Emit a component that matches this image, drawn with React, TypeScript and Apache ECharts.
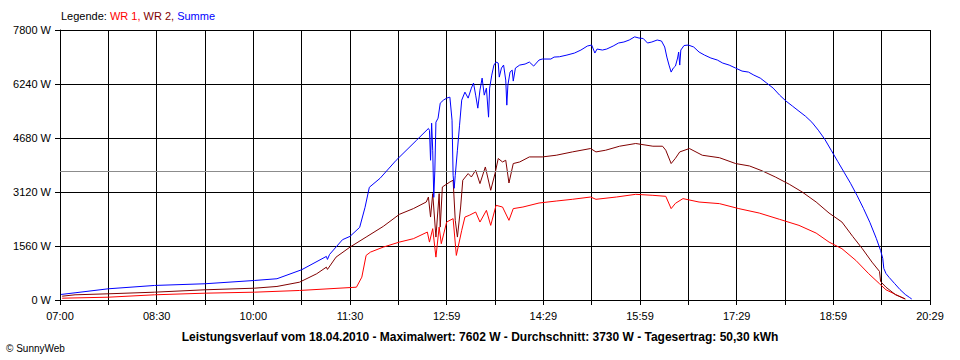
import React, { useEffect, useRef } from "react";
import * as echarts from "echarts";

const tickLabels = ["07:00", "08:30", "10:00", "11:30", "12:59", "14:29", "15:59", "17:29", "18:59", "20:29"];
const yTicks = [0, 1560, 3120, 4680, 6240, 7800];
const average = 3730;

const sumTimes = ["07:01","07:14","07:45","08:28","09:15","10:01","10:22","10:45","11:08","11:09","11:11","11:23","11:30","11:39","11:44","11:48","11:58","12:13","12:32","12:43","12:44","12:45","12:46","12:47","12:48","12:49","12:50","12:52","12:54","12:57","13:00","13:03","13:05","13:06","13:07","13:08","13:10","13:12","13:14","13:17","13:20","13:23","13:25","13:27","13:29","13:31","13:33","13:35","13:37","13:39","13:40","13:42","13:44","13:46","13:48","13:49","13:51","13:53","13:55","13:56","13:57","13:59","14:01","14:02","14:04","14:08","14:13","14:17","14:21","14:26","14:29","14:37","14:40","14:45","14:52","14:59","15:05","15:11","15:15","15:18","15:20","15:25","15:29","15:35","15:40","15:45","15:50","15:55","15:59","16:03","16:07","16:11","16:16","16:20","16:23","16:25","16:27","16:29","16:31","16:33","16:35","16:36","16:37","16:38","16:41","16:45","16:50","16:55","17:00","17:06","17:12","17:17","17:23","17:29","17:35","17:41","17:46","17:52","17:58","18:04","18:10","18:16","18:22","18:28","18:34","18:40","18:46","18:52","18:58","19:04","19:10","19:16","19:22","19:28","19:34","19:40","19:44","19:46","19:47","19:49","19:52","19:57","20:02","20:07","20:11","20:13"];
const sumValues = [160,208,324,420,469,564,614,874,1259,1172,1317,1742,1838,2098,2677,3256,3516,4037,4616,4955,4900,4037,5108,4327,2966,3748,5137,5253,5687,5774,5832,5860,5195,3603,3227,3603,4327,5050,5774,6005,5832,6121,6266,5918,5542,6063,6410,5918,6121,5282,6121,6497,6787,6874,6845,6439,6700,6787,6353,5629,6208,6584,6642,6324,6700,6787,6816,6874,6758,6932,6961,6961,7018,7027,7076,7134,7221,7337,7366,7134,7250,7221,7250,7337,7424,7453,7511,7602,7568,7554,7424,7453,7511,7482,7308,7018,6787,6584,6700,6758,6990,7163,6787,7221,7351,7366,7308,7163,7076,6990,6932,6845,6787,6700,6613,6584,6497,6410,6266,6121,5918,5745,5600,5455,5311,5137,4906,4645,4327,4008,3690,3372,3024,2648,2243,1780,1432,1201,912,767,651,478,304,159,72,29];

const wr2Times = ["07:02","07:14","07:45","08:28","09:15","10:01","10:22","10:43","10:59","11:08","11:09","11:17","11:30","11:45","12:01","12:16","12:29","12:41","12:43","12:45","12:47","12:50","12:53","12:54","12:56","13:03","13:06","13:08","13:10","13:13","13:15","13:20","13:23","13:27","13:31","13:36","13:41","13:45","13:48","13:52","13:55","13:58","14:02","14:08","14:17","14:29","14:42","14:57","15:14","15:19","15:28","15:41","15:56","16:12","16:21","16:24","16:29","16:33","16:37","16:46","16:58","17:14","17:29","17:42","17:54","18:06","18:19","18:31","18:44","18:56","19:08","19:18","19:27","19:36","19:43","19:44","19:49","19:58","20:07"];
const wr2Values = [110,150,179,226,295,341,391,515,758,949,883,1239,1528,1818,2127,2475,2640,2831,2975,2396,3074,1818,3074,2107,3265,3409,3459,2301,1818,2686,3459,3652,3554,3748,3363,3843,3169,3652,4087,3988,4037,3380,3942,3988,4133,4133,4182,4278,4376,4278,4327,4443,4521,4443,4443,4327,3942,4095,4278,4376,4182,4110,3942,3872,3728,3554,3343,3120,2831,2512,2252,1838,1482,1094,825,535,370,150,29];

const wr1Times = ["07:02","07:45","08:28","09:15","10:01","10:43","11:36","11:41","11:45","11:49","12:01","12:16","12:29","12:42","12:44","12:47","12:50","12:53","12:55","13:00","13:06","13:09","13:14","13:17","13:21","13:27","13:31","13:37","13:41","13:46","13:52","13:58","14:02","14:11","14:26","14:42","14:57","15:14","15:19","15:38","15:56","16:12","16:24","16:29","16:33","16:40","16:55","17:14","17:32","17:51","18:10","18:28","18:44","18:56","19:08","19:21","19:33","19:43","19:49","19:58","20:07"];
const wr1Values = [52,81,150,197,226,275,370,660,1288,1383,1528,1673,1771,1962,1673,2061,1239,2107,1627,2252,2350,1288,2011,2396,2446,2541,2252,2590,2156,2735,2686,2301,2640,2686,2802,2859,2909,2975,2909,2975,3053,3024,2995,2640,2793,2929,2830,2784,2640,2512,2330,2156,1933,1673,1482,1143,758,469,295,159,29];

const SPAN = 810;
const STEP = SPAN / 18;
const toX = (t: string) => {
  const [h, m] = t.split(":").map(Number);
  return h * 60 + m - 420;
};
const pairs = (times: string[], vals: number[]) => times.map((t, i) => [toX(t), vals[i]]);

const FONT = "Liberation Sans, Arial, sans-serif";

export default function App() {
  const ref = useRef<HTMLDivElement>(null);
  useEffect(() => {
    if (!ref.current) return;
    const chart = echarts.init(ref.current, null, { renderer: "svg" });
    chart.setOption({
      animation: false,
      backgroundColor: "#ffffff",
      grid: { left: 60, right: 30, top: 30, bottom: 60, containLabel: false },
      xAxis: {
        type: "value",
        min: 0,
        max: SPAN,
        interval: STEP,
        axisLine: { show: true, lineStyle: { color: "#000", width: 1 } },
        axisTick: { show: true, length: 5, lineStyle: { color: "#000" } },
        splitLine: { show: true, lineStyle: { color: "#000", width: 1 } },
        axisLabel: {
          color: "#000",
          fontSize: 11,
          fontFamily: FONT,
          margin: 10,
          formatter: (v: number) => {
            const i = Math.round(v / STEP);
            return i % 2 === 0 ? tickLabels[i / 2] ?? "" : "";
          },
        },
      },
      yAxis: {
        type: "value",
        min: yTicks[0],
        max: yTicks[yTicks.length - 1],
        interval: yTicks[1] - yTicks[0],
        axisLine: { show: true, lineStyle: { color: "#000", width: 1 } },
        axisTick: { show: true, length: 5, lineStyle: { color: "#000" } },
        splitLine: { show: true, lineStyle: { color: "#000", width: 1 } },
        axisLabel: {
          color: "#000",
          fontSize: 11,
          fontFamily: FONT,
          margin: 9,
          formatter: (v: number) => `${v} W`,
        },
      },
      series: [
        {
          name: "WR 1",
          type: "line",
          data: pairs(wr1Times, wr1Values),
          showSymbol: false,
          symbol: "none",
          lineStyle: { color: "#ff0000", width: 1 },
          itemStyle: { color: "#ff0000" },
          markLine: {
            silent: true,
            symbol: "none",
            label: { show: false },
            lineStyle: { color: "#8c8c8c", width: 1, type: "solid" },
            data: [{ yAxis: average }],
          },
          z: 3,
        },
        {
          name: "WR 2",
          type: "line",
          data: pairs(wr2Times, wr2Values),
          showSymbol: false,
          symbol: "none",
          lineStyle: { color: "#800000", width: 1 },
          itemStyle: { color: "#800000" },
          z: 4,
        },
        {
          name: "Summe",
          type: "line",
          data: pairs(sumTimes, sumValues),
          showSymbol: false,
          symbol: "none",
          lineStyle: { color: "#0000ff", width: 1 },
          itemStyle: { color: "#0000ff" },
          z: 5,
        },
      ],
      graphic: [
        {
          type: "text",
          left: 61,
          top: 10,
          style: {
            text: "{k|Legende: }{a|WR 1, }{b|WR 2, }{c|Summe}",
            font: `11px ${FONT}`,
            rich: {
              k: { fill: "#000", fontSize: 11, fontFamily: FONT },
              a: { fill: "#ff0000", fontSize: 11, fontFamily: FONT },
              b: { fill: "#800000", fontSize: 11, fontFamily: FONT },
              c: { fill: "#0000ff", fontSize: 11, fontFamily: FONT },
            },
          },
        },
        {
          type: "text",
          x: 480,
          y: 337,
          style: {
            text: "Leistungsverlauf vom 18.04.2010 - Maximalwert: 7602 W - Durchschnitt: 3730 W - Tagesertrag: 50,30 kWh",
            font: `bold 12px ${FONT}`,
            fill: "#000",
            textAlign: "center",
            textVerticalAlign: "middle",
          },
        },
        {
          type: "text",
          left: 6,
          top: 343,
          style: {
            text: "© SunnyWeb",
            font: `10px ${FONT}`,
            fill: "#000",
          },
        },
      ],
    });
    return () => chart.dispose();
  }, []);
  return (
    <div
      ref={ref}
      style={{ position: "absolute", left: 0, top: 0, width: 960, height: 360 }}
    />
  );
}
